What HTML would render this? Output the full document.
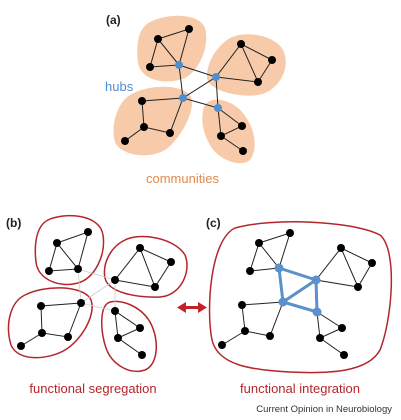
<!DOCTYPE html>
<html><head><style>body{margin:0;background:#fff}svg{display:block}</style></head><body>
<svg width="401" height="420" viewBox="0 0 401 420" xmlns="http://www.w3.org/2000/svg" font-family="Liberation Sans, sans-serif">
<defs><filter id="b" x="-1" y="-1" width="3" height="3"><feGaussianBlur stdDeviation="0.8"/></filter></defs>
<!-- Panel a -->
<g fill="#f7cba9">
<path d="M150 22 C170 12 200 14 205 28 C210 45 200 70 185 78 C165 86 140 80 138 62 C136 45 138 28 150 22Z"/>
<path d="M230 38 C245 30 275 35 283 50 C292 68 278 92 258 95 C238 98 208 90 207 78 C206 62 218 45 230 38Z"/>
<path d="M130 95 C148 84 180 84 190 95 C198 108 180 140 165 150 C148 160 120 155 115 142 C110 125 118 102 130 95Z"/>
<path d="M205 105 C212 95 232 100 242 112 C256 128 258 150 250 160 C240 168 218 160 210 145 C202 132 200 115 205 105Z"/>
</g>
<g stroke="#222" stroke-width="1" fill="none">
<path d="M158 39L189 29L179 65L158 39L150 67L179 65"/>
<path d="M241 44L272 60L258 82L241 44L216 77L258 82"/>
<path d="M183 98L142 101L144 127L170 133L183 98M144 127L125 141"/>
<path d="M218 108L221 136L242 126L218 108M221 136L243 151"/>
<path d="M179 65L216 77L183 98L179 65M216 77L218 108L183 98"/>
</g>
<g fill="#000">
<circle cx="158" cy="39" r="4"/><circle cx="189" cy="29" r="4"/><circle cx="150" cy="67" r="4"/>
<circle cx="241" cy="44" r="4"/><circle cx="272" cy="60" r="4"/><circle cx="258" cy="82" r="4"/>
<circle cx="142" cy="101" r="4"/><circle cx="144" cy="127" r="4"/><circle cx="170" cy="133" r="4"/><circle cx="125" cy="141" r="4"/>
<circle cx="242" cy="126" r="4"/><circle cx="221" cy="136" r="4"/><circle cx="243" cy="151" r="4"/>
</g>
<g fill="#4f8fcf"><circle cx="179" cy="65" r="4"/><circle cx="216" cy="77" r="4"/><circle cx="183" cy="98" r="4"/><circle cx="218" cy="108" r="4"/></g>
<text x="106" y="24" font-size="12" font-weight="bold" fill="#222">(a)</text>
<text x="105" y="91" font-size="13" fill="#4f8fcf">hubs</text>
<text x="146" y="183" font-size="13" fill="#e08a4c">communities</text>
<!-- Panel b -->
<text x="6" y="227" font-size="12" font-weight="bold" fill="#222">(b)</text>
<g fill="none" stroke="#b3262b" stroke-width="1.5">
<path d="M48 220 C65 212 100 214 103 235 C106 255 95 278 78 283 C60 288 38 280 36 262 C34 245 36 226 48 220Z"/>
<path d="M125 240 C140 232 175 238 185 255 C192 272 180 296 160 297 C135 298 108 292 105 278 C102 262 112 246 125 240Z"/>
<path d="M25 295 C45 285 80 285 90 298 C98 312 82 340 65 350 C48 360 18 362 11 345 C5 325 10 302 25 295Z"/>
<path d="M108 303 C118 298 140 305 150 322 C160 340 158 365 145 370 C130 375 112 365 106 348 C100 330 100 308 108 303Z"/>
</g>
<g stroke="#ccc" stroke-width="0.8" fill="none"><path d="M78 269L115 280L81 303L78 269M115 280L115 311L81 303"/></g>
<g stroke="#222" stroke-width="1" fill="none">
<path d="M57 243L88 232L78 269L57 243L49 271L78 269"/>
<path d="M140 248L171 262L155 287L140 248L115 280L155 287"/>
<path d="M81 303L41 306L42 333L68 337L81 303M42 333L21 346"/>
<path d="M115 311L118 338L140 328L115 311M118 338L142 355"/>
</g>
<g fill="#000">
<circle cx="57" cy="243" r="4"/><circle cx="88" cy="232" r="4"/><circle cx="49" cy="271" r="4"/><circle cx="78" cy="269" r="4"/>
<circle cx="140" cy="248" r="4"/><circle cx="171" cy="262" r="4"/><circle cx="155" cy="287" r="4"/><circle cx="115" cy="280" r="4"/>
<circle cx="81" cy="303" r="4"/><circle cx="41" cy="306" r="4"/><circle cx="42" cy="333" r="4"/><circle cx="68" cy="337" r="4"/><circle cx="21" cy="346" r="4"/>
<circle cx="115" cy="311" r="4"/><circle cx="140" cy="328" r="4"/><circle cx="118" cy="338" r="4"/><circle cx="142" cy="355" r="4"/>
</g>
<text x="93" y="393" font-size="13" fill="#b3262b" text-anchor="middle">functional segregation</text>
<!-- Arrow -->
<g fill="#c0222a"><rect x="183" y="306" width="18" height="3"/><path d="M177 307.5L186 302L186 313Z"/><path d="M207 307.5L198 302L198 313Z"/></g>
<!-- Panel c -->
<text x="206" y="227" font-size="12" font-weight="bold" fill="#222">(c)</text>
<path d="M235 228 C270 218 350 220 380 235 C398 250 392 320 380 350 C368 372 330 374 290 372 C250 370 218 365 212 340 C206 310 210 240 235 228Z" fill="none" stroke="#b3262b" stroke-width="1.5"/>
<g stroke="#222" stroke-width="1" fill="none">
<path d="M259 243L290 233L279 268L259 243L250 271L279 268"/>
<path d="M341 248L372 263L358 287L341 248L316 280L358 287"/>
<path d="M283 302L242 305L245 331L270 336L283 302M245 331L222 345"/>
<path d="M317 312L320 338L342 328L317 312M320 338L344 355"/>
</g>
<g stroke="#5b90cc" stroke-width="3" fill="none"><path d="M279 268L316 280L283 302L279 268M316 280L317 312L283 302"/></g>
<g fill="#000">
<circle cx="259" cy="243" r="4"/><circle cx="290" cy="233" r="4"/><circle cx="250" cy="271" r="4"/>
<circle cx="341" cy="248" r="4"/><circle cx="372" cy="263" r="4"/><circle cx="358" cy="287" r="4"/>
<circle cx="242" cy="305" r="4"/><circle cx="245" cy="331" r="4"/><circle cx="270" cy="336" r="4"/><circle cx="222" cy="345" r="4"/>
<circle cx="342" cy="328" r="4"/><circle cx="320" cy="338" r="4"/><circle cx="344" cy="355" r="4"/>
</g>
<g fill="#5b90cc"><circle cx="279" cy="268" r="4.5"/><circle cx="316" cy="280" r="4.5"/><circle cx="283" cy="302" r="4.5"/><circle cx="317" cy="312" r="4.5"/></g>
<text x="300" y="393" font-size="13" fill="#b3262b" text-anchor="middle">functional integration</text>
<text x="392" y="412" font-size="9.5" fill="#333" text-anchor="end">Current Opinion in Neurobiology</text>
</svg>
</body></html>
